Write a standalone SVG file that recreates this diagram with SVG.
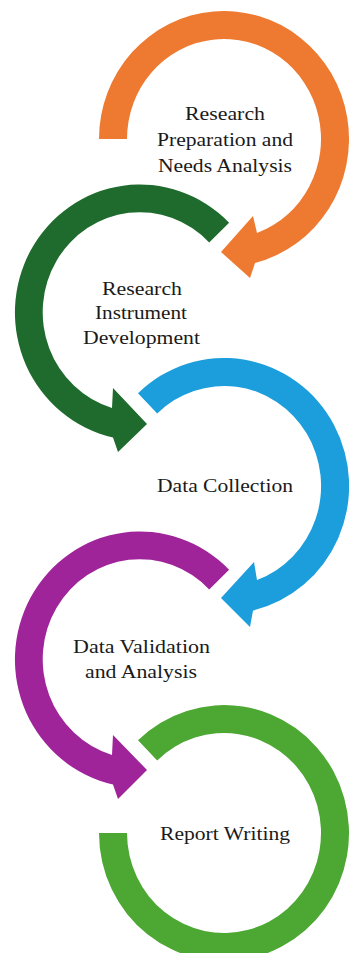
<svg xmlns="http://www.w3.org/2000/svg" width="349" height="953" viewBox="0 0 349 953">
<style>
  text { font-family: "Liberation Serif", "Times New Roman", serif; font-size: 19px; fill: #1a1a1a; text-anchor: middle; }
  .orange { fill: #ED7A30; }
  .dgreen { fill: #1E6B2D; }
  .blue { fill: #1B9EDB; }
  .purple { fill: #9F2399; }
  .lgreen { fill: #4CA733; }
</style>
<rect width="349" height="953" fill="#ffffff"/>
<g id="node-preparation">
  <path class="orange" d="M 99,139 A 125 128 0 1 1 255,263 L 250,278 L 221,252 L 253,216 L 257,233 A 97 100 0 1 0 127,139 Z"/>
  <text x="225" y="120" textLength="80" lengthAdjust="spacingAndGlyphs">Research</text>
  <text x="225" y="146" textLength="136" lengthAdjust="spacingAndGlyphs">Preparation and</text>
  <text x="225" y="172" textLength="134" lengthAdjust="spacingAndGlyphs">Needs Analysis</text>
</g>
<g id="node-instrument">
  <path class="dgreen" d="M 229.1,222.8 A 125 128 0 1 0 113,437.5 L 118,452 L 147,424 L 113,388 L 112,408 A 97 100 0 1 1 209.2,242.4 Z"/>
  <text x="142" y="295" textLength="80" lengthAdjust="spacingAndGlyphs">Research</text>
  <text x="141" y="319" textLength="92" lengthAdjust="spacingAndGlyphs">Instrument</text>
  <text x="141.5" y="344" textLength="117" lengthAdjust="spacingAndGlyphs">Development</text>
</g>
<g id="node-collection">
  <path class="blue" d="M 138,393.2 A 125 128 0 1 1 253,610.5 L 250,627 L 221,598 L 254,562 L 257,580 A 97 100 0 1 0 157.2,413.5 Z"/>
  <text x="225" y="492" textLength="136" lengthAdjust="spacingAndGlyphs">Data Collection</text>
</g>
<g id="node-validation">
  <path class="purple" d="M 229.1,569.8 A 125 128 0 1 0 113,784.5 L 118,799 L 147,770 L 113,735 L 112,755 A 97 100 0 1 1 209.2,589.4 Z"/>
  <text x="141.5" y="653" textLength="137" lengthAdjust="spacingAndGlyphs">Data Validation</text>
  <text x="141" y="678" textLength="112" lengthAdjust="spacingAndGlyphs">and Analysis</text>
</g>
<g id="node-report">
  <path class="lgreen" d="M 99,833 A 125 128 0 1 0 138,740.2 L 157.2,760.5 A 97 100 0 1 1 127,833 Z"/>
  <text x="225" y="840" textLength="130" lengthAdjust="spacingAndGlyphs">Report Writing</text>
</g>
<g id="connectors"></g>
</svg>
